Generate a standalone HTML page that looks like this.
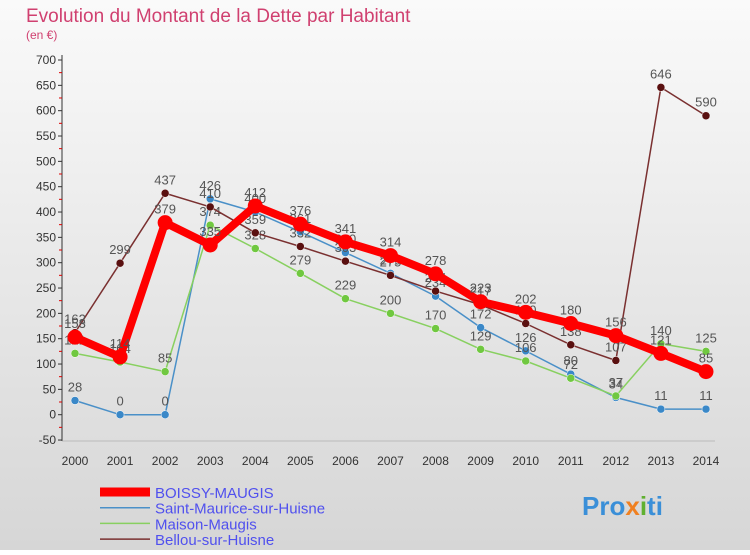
<!DOCTYPE html>
<html><head><meta charset="utf-8"><style>
body{margin:0;width:750px;height:550px;overflow:hidden;font-family:"Liberation Sans",sans-serif}
svg text{font-family:"Liberation Sans",sans-serif}
</style></head><body>
<svg id="c" width="750" height="550">
<defs><linearGradient id="bg" x1="0" y1="0" x2="0" y2="1"><stop offset="0" stop-color="#fafafa"/><stop offset="1" stop-color="#d6d6d6"/></linearGradient></defs>
<rect width="750" height="550" fill="url(#bg)"/>
<text x="26" y="22" font-size="19" fill="#d04070">Evolution du Montant de la Dette par Habitant</text>
<text x="26" y="39" font-size="12" fill="#d04070">(en €)</text>
<g id="axes"></g><g id="series"></g><g id="legend"></g>
<text x="582" y="515" font-size="26" font-weight="bold" fill="#3a8fd8">Pro<tspan fill="#f08020">x</tspan><tspan fill="#60b030">i</tspan>ti</text>
</svg>
<script>
const years=[2000,2001,2002,2003,2004,2005,2006,2007,2008,2009,2010,2011,2012,2013,2014];
const yTicks=[-50,0,50,100,150,200,250,300,350,400,450,500,550,600,650,700];
const boissy=[153,114,379,335,412,376,341,314,278,223,202,180,156,121,85];
const stMaurice=[28,0,0,426,400,361,320,279,234,172,126,80,34,11,11];
const maison=[121,104,85,374,328,279,229,200,170,129,106,72,37,140,125];
const bellou=[162,299,437,410,359,332,303,275,244,217,180,138,107,646,590];
const names=["BOISSY-MAUGIS","Saint-Maurice-sur-Huisne","Maison-Maugis","Bellou-sur-Huisne"];
const NS="http://www.w3.org/2000/svg";
const X=i=>75+i*45.07, Y=v=>414.7-v*0.5067;
function mk(t,a,p){const e=document.createElementNS(NS,t);for(const k in a)e.setAttribute(k,a[k]);p.appendChild(e);return e;}
const ax=document.getElementById('axes');
let l=mk('line',{x1:62,y1:55,x2:62,y2:441,stroke:'#333'},ax);


l=mk('line',{x1:62,y1:441,x2:715,y2:441,stroke:'#999','stroke-width':0.5},ax);


yTicks.forEach((v,i)=>{const y=Y(v);
 mk('line',{x1:58,y1:y,x2:62,y2:y,stroke:'#333'},ax);
 if(i<yTicks.length-1) mk('line',{x1:59,y1:y-12.7,x2:62,y2:y-12.7,stroke:'#d00'},ax);
 const t=mk('text',{x:56,y:y+4,'font-size':12,fill:'#333','text-anchor':'end'},ax);t.textContent=v;
 
 });
years.forEach((yr,i)=>{const t=mk('text',{x:X(i),y:465,'font-size':12,fill:'#333','text-anchor':'middle'},ax);t.textContent=yr;
 
 });
const sg=document.getElementById('series');
const defs=[[stMaurice,'#4a90c8',1.5,4,'#3a88c8'],[maison,'#88d060',1.5,4,'#70c840'],[bellou,'#7a3030',1.5,4,'#5a1010'],[boissy,'#ff0000',8,7.5,'#ff0000']];
const keys=['saint-maurice','maison-maugis','bellou','boissy'];
defs.forEach((d,k)=>{const [vals,c,w,r,fc]=d;
 const g=mk('g',{},sg);
 
 
 const p=mk('polyline',{points:vals.map((v,i)=>X(i)+','+Y(v)).join(' '),fill:'none',stroke:c,'stroke-width':w,'stroke-linejoin':'round'},g);
 
 
 vals.forEach((v,i)=>{const pt=mk('circle',{cx:X(i),cy:Y(v),r:r,fill:fc,stroke:k<3?'#fff':'none','stroke-width':0.5},g);
  
  
  const t=mk('text',{x:X(i),y:Y(v)-9,'font-size':13,fill:'#555','text-anchor':'middle'},g);t.textContent=v;
  
  });
});
const lg=document.getElementById('legend');
const lc=[['#ff0000',9],['#4a90c8',1.5],['#88d060',1.5],['#7a3030',1.5]];
names.forEach((n,i)=>{const y=492+i*15.7;
 const g=mk('g',{},lg);
 
 
 mk('line',{x1:100,y1:y,x2:150,y2:y,stroke:lc[i][0],'stroke-width':lc[i][1]},g);
 const t=mk('text',{x:155,y:y+6,'font-size':15,fill:'#5050ee'},g);t.textContent=n;});
</script>
</body></html>
